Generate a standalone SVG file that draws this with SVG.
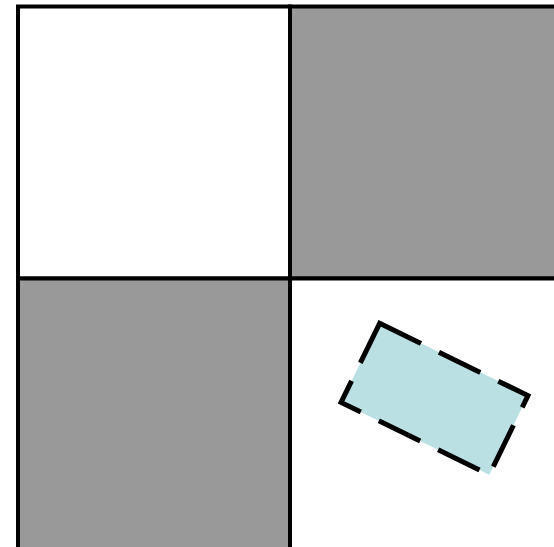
<svg xmlns="http://www.w3.org/2000/svg" width="554" height="547" viewBox="0 0 554 547">
  <style>
    .cell { stroke: #000; stroke-width: 4; }
    .dark { fill: #999999; }
    .light { fill: #ffffff; }
    .piece { fill: #bbe0e3; stroke: #000; stroke-width: 5; stroke-dasharray: 46 20; }
  </style>
  <rect width="554" height="547" fill="#ffffff"/>
  <g id="grid">
    <rect id="cell-tl" class="cell light" x="18" y="6.5" width="272" height="272"/>
    <rect id="cell-tr" class="cell dark" x="290" y="6.5" width="272" height="272"/>
    <rect id="cell-bl" class="cell dark" x="18" y="278.5" width="272" height="272"/>
    <rect id="cell-br" class="cell light" x="290" y="278.5" width="272" height="272"/>
  </g>
  <g id="tile" transform="translate(434.5 399) rotate(26)">
    <rect class="piece" x="-82.5" y="-44" width="165" height="88"/>
  </g>
</svg>
